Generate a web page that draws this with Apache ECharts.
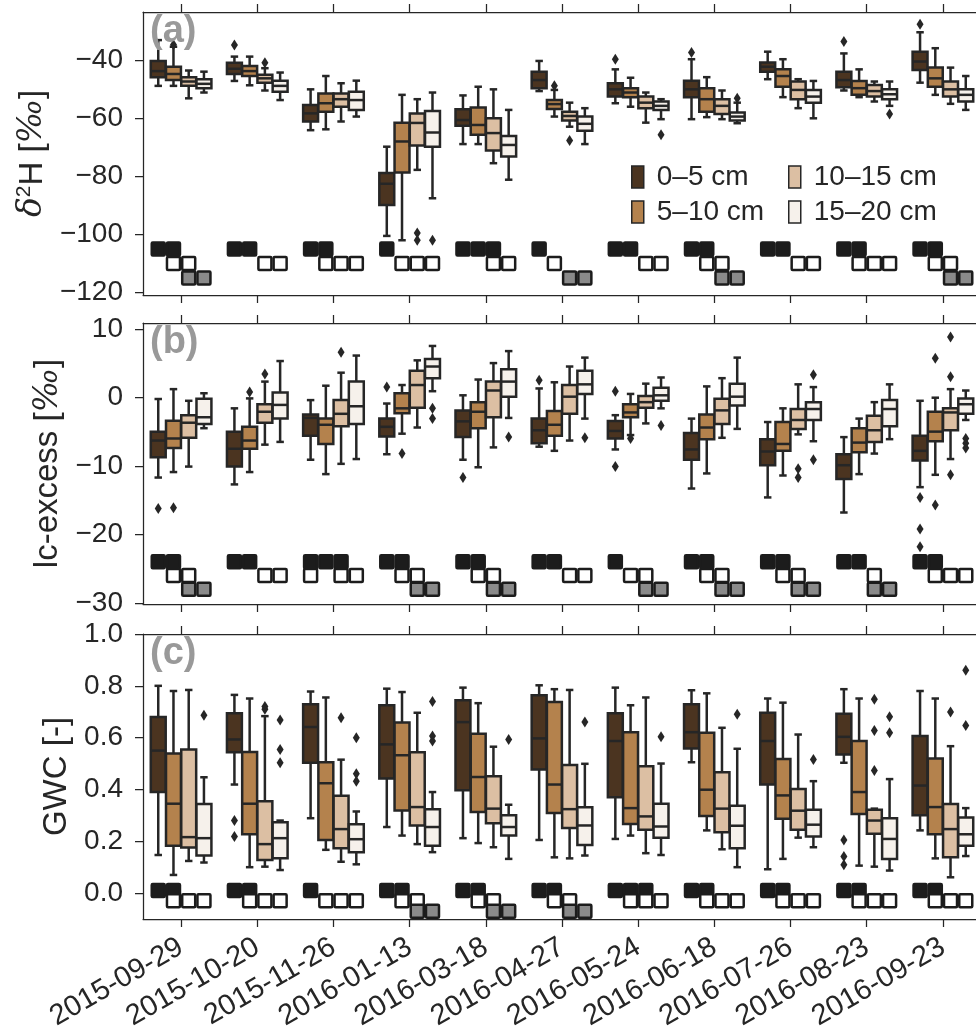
<!DOCTYPE html>
<html>
<head>
<meta charset="utf-8">
<title>Soil water isotopes and GWC by depth</title>
<script src="https://cdn.jsdelivr.net/npm/echarts@6/dist/echarts.min.js"></script>
<style>
  html, body { margin: 0; padding: 0; background: #fff; }
  #chart { width: 976px; height: 1035px; }
</style>
</head>
<body>
<div id="chart"></div>
<script>
const dates = ['2015-09-29', '2015-10-20', '2015-11-26', '2016-01-13', '2016-03-18', '2016-04-27',
  '2016-05-24', '2016-06-18', '2016-07-26', '2016-08-23', '2016-09-23']
const depths = ['0–5 cm', '5–10 cm', '10–15 cm', '15–20 cm']

// box stats per date: [whisker low, q1, median, q3, whisker high]
const d2H_0_5 = [[-48.7, -45.7, -43.6, -40.1, -32.9], [-47.0, -44.6, -42.8, -40.7, -38.6], [-64.0, -61.0, -58.2, -55.3, -49.9],
  [-100.5, -89.8, -82.5, -78.8, -69.7], [-68.8, -62.5, -60.5, -56.8, -52.0], [-50.5, -49.5, -46.7, -43.8, -40.1],
  [-54.7, -52.4, -49.9, -47.8, -43.0], [-60.2, -52.6, -49.9, -46.9, -39.5], [-46.4, -43.8, -42.1, -40.6, -36.9],
  [-50.3, -49.2, -46.7, -43.8, -37.5], [-47.6, -43.2, -40.3, -36.9, -30.2]]
const d2H_5_10 = [[-48.7, -46.7, -44.6, -42.1, -35.2], [-48.5, -45.3, -43.6, -41.8, -38.6], [-63.7, -57.6, -54.7, -51.3, -45.3],
  [-102.0, -78.6, -67.9, -61.4, -51.8], [-68.8, -65.6, -62.2, -56.2, -49.0], [-59.3, -56.7, -55.0, -53.6, -50.1],
  [-55.9, -52.6, -51.0, -49.5, -45.9], [-59.5, -57.6, -53.3, -49.5, -45.7], [-52.6, -49.0, -45.3, -43.0, -39.5],
  [-52.6, -51.8, -49.5, -47.0, -43.0], [-51.8, -49.0, -46.1, -42.4, -35.7]]
const d2H_10_15 = [[-53.0, -48.7, -47.2, -45.7, -43.4], [-50.3, -47.6, -46.1, -44.9, -42.6], [-61.0, -55.9, -53.3, -51.3, -47.8],
  [-77.7, -69.3, -61.5, -58.2, -53.3], [-75.4, -71.0, -65.0, -59.9, -49.9], [-62.8, -60.7, -59.1, -57.6, -54.5],
  [-61.4, -56.4, -54.5, -52.4, -51.0], [-60.2, -58.4, -55.6, -53.3, -50.3], [-56.4, -53.3, -50.1, -47.2, -46.4],
  [-54.1, -52.4, -50.5, -48.4, -47.2], [-54.9, -52.4, -49.9, -47.2, -42.4]]
const d2H_15_20 = [[-51.0, -49.5, -48.0, -46.4, -43.8], [-53.6, -50.7, -48.7, -46.9, -44.1], [-59.3, -57.0, -53.6, -50.7, -46.9],
  [-87.5, -69.7, -64.8, -57.4, -51.0], [-81.1, -73.1, -69.1, -66.0, -57.0], [-68.8, -64.2, -61.8, -59.3, -56.4],
  [-60.2, -57.0, -55.6, -54.1, -53.3], [-61.6, -60.7, -59.3, -57.9, -54.5], [-59.9, -54.5, -52.4, -50.1, -47.0],
  [-55.6, -53.3, -51.6, -49.9, -47.2], [-57.0, -54.1, -51.8, -49.9, -45.3]]
// [date index, depth index, value]
const d2H_out = [[0, 1, -34.5], [1, 0, -34.6], [1, 2, -40.7], [3, 2, -99.5], [3, 2, -102], [3, 3, -102], [5, 1, -48.7],
  [5, 2, -67.6], [6, 0, -39.5], [6, 3, -65.6], [7, 0, -37.2], [7, 3, -53.0], [9, 0, -33.4], [9, 3, -58.4], [10, 0, -27.4]]
const d2H_groups = [['a', 'ab', 'bc', 'c'], ['a', 'a', 'b', 'b'], ['a', 'ab', 'b', 'b'], ['a', 'b', 'b', 'b'],
  ['a', 'a', 'ab', 'b'], ['a', 'b', 'c', 'c'], ['a', 'a', 'b', 'b'], ['a', 'ab', 'bc', 'c'], ['a', 'a', 'b', 'b'],
  ['a', 'ab', 'b', 'b'], ['a', 'ab', 'bc', 'c']]
const d2H_rows = [-105, -110, -115]

const lcx_0_5 = [[-11.7, -8.75, -6.3, -5.0, -0.24], [-12.7, -10.1, -7.5, -5.0, -1.6], [-9.1, -5.6, -3.0, -2.5, -0.4],
  [-8.3, -5.7, -4.3, -3.1, -0.9], [-9.1, -5.8, -3.5, -1.9, 0.3], [-7.2, -6.7, -4.8, -3.1, 1.3],
  [-7.6, -6.0, -4.9, -3.45, -2.6], [-13.3, -9.1, -7.6, -5.2, -3.1], [-14.6, -9.9, -7.9, -6.1, -3.6],
  [-16.8, -11.9, -9.9, -8.3, -5.8], [-13.1, -9.2, -7.8, -5.6, -0.5]]
const lcx_5_10 = [[-10.9, -7.4, -6.0, -3.4, 1.2], [-10.9, -7.5, -6.3, -4.3, -0.15], [-11.2, -6.8, -4.0, -3.1, 1.7],
  [-5.3, -2.3, -1.6, 0.6, 1.8], [-10.2, -4.5, -2.1, -0.7, 2.6], [-7.8, -5.6, -4.0, -2.0, 2.2],
  [-5.5, -2.9, -2.2, -1.0, 0.5], [-11.1, -6.1, -4.4, -2.5, 1.6], [-11.4, -7.8, -6.8, -3.6, -1.6],
  [-11.2, -8.0, -6.6, -4.5, -3.1], [-11.3, -6.4, -5.0, -2.1, -0.05]]
const lcx_10_15 = [[-10.1, -5.9, -3.7, -2.6, -0.5], [-6.9, -3.7, -2.1, -1.0, 2.3], [-9.7, -4.2, -2.4, -0.4, 3.6],
  [-4.4, -1.5, 1.8, 3.9, 5.4], [-7.3, -2.9, 1.0, 2.3, 5.0], [-6.3, -2.4, 0.1, 1.8, 4.5],
  [-3.8, -1.5, -0.7, 0.2, 2.0], [-5.9, -3.9, -1.9, -0.2, 2.8], [-5.4, -4.6, -3.3, -1.7, 1.9],
  [-8.2, -6.5, -4.8, -2.7, -0.7], [-9.0, -4.8, -2.2, -1.6, 1.2]]
const lcx_15_20 = [[-4.5, -3.9, -2.9, -0.2, 0.6], [-6.5, -3.1, -1.1, 0.7, 5.3], [-9.0, -3.9, -1.3, 2.3, 6.1],
  [0.9, 2.8, 4.5, 5.6, 7.5], [-3.0, 0.1, 2.3, 4.1, 6.75], [-3.1, 0.5, 1.9, 3.9, 5.8],
  [-1.6, -0.5, 0.3, 1.4, 2.9], [-4.6, -1.2, 0.1, 2.0, 5.8], [-6.4, -3.3, -1.7, -0.7, 1.5],
  [-6.1, -4.2, -1.7, -0.4, 1.9], [-3.3, -2.4, -1.0, -0.15, 1.0]]
const lcx_out = [[0, 0, -16.2], [0, 1, -16.1], [1, 1, 0.8], [1, 2, 3.4], [2, 2, 6.6], [3, 0, 1.5], [3, 1, -8.2],
  [3, 3, -1.6], [3, 3, -3.1], [4, 0, -11.7], [4, 3, -5.8], [5, 0, 2.5], [5, 3, -5.9], [6, 0, 0.9], [6, 0, -10.1],
  [6, 1, -6.0], [6, 3, -4.1], [8, 2, -10.4], [8, 2, -11.7], [8, 3, 3.3], [8, 3, -9.1], [10, 0, -14.6], [10, 0, -19.2],
  [10, 0, -21.8], [10, 1, 5.7], [10, 1, -15.7], [10, 2, 8.8], [10, 2, 3.0], [10, 2, -11.3], [10, 3, -6.0],
  [10, 3, -6.7], [10, 3, -7.4]]
const lcx_groups = [['a', 'ab', 'bc', 'c'], ['a', 'a', 'b', 'b'], ['ab', 'a', 'ab', 'b'], ['a', 'ab', 'bc', 'c'],
  ['a', 'ab', 'bc', 'c'], ['a', 'a', 'b', 'b'], ['a', 'b', 'bc', 'c'], ['a', 'ab', 'bc', 'c'], ['a', 'ab', 'bc', 'c'],
  ['a', 'a', 'bc', 'c'], ['a', 'ab', 'b', 'b']]
const lcx_rows = [-24, -26, -28]

const gwc_0_5 = [[0.147, 0.39, 0.55, 0.68, 0.80], [0.419, 0.544, 0.593, 0.694, 0.765], [0.289, 0.503, 0.641, 0.729, 0.778],
  [0.255, 0.442, 0.574, 0.725, 0.789], [0.212, 0.397, 0.66, 0.744, 0.793], [0.205, 0.477, 0.597, 0.764, 0.802],
  [0.209, 0.37, 0.587, 0.694, 0.793], [0.505, 0.558, 0.621, 0.729, 0.783], [0.092, 0.419, 0.587, 0.696, 0.751],
  [0.503, 0.535, 0.603, 0.692, 0.787], [0.242, 0.30, 0.415, 0.606, 0.78]]
const gwc_5_10 = [[0.07, 0.183, 0.345, 0.539, 0.78], [0.10, 0.227, 0.345, 0.545, 0.751], [0.167, 0.205, 0.424, 0.505, 0.755],
  [0.222, 0.319, 0.532, 0.658, 0.776], [0.193, 0.313, 0.448, 0.615, 0.733], [0.138, 0.309, 0.419, 0.738, 0.787],
  [0.222, 0.267, 0.328, 0.621, 0.725], [0.242, 0.298, 0.399, 0.619, 0.771], [0.132, 0.287, 0.377, 0.518, 0.735],
  [0.106, 0.305, 0.39, 0.587, 0.751], [0.134, 0.227, 0.332, 0.519, 0.751]]
const gwc_10_15 = [[0.124, 0.176, 0.216, 0.554, 0.784], [0.102, 0.128, 0.189, 0.354, 0.683], [0.121, 0.173, 0.247, 0.376, 0.515],
  [0.189, 0.261, 0.332, 0.544, 0.696], [0.177, 0.27, 0.326, 0.451, 0.565], [0.134, 0.251, 0.324, 0.494, 0.784],
  [0.154, 0.244, 0.296, 0.49, 0.755], [0.169, 0.235, 0.326, 0.466, 0.638], [0.214, 0.244, 0.318, 0.402, 0.612],
  [0.102, 0.229, 0.28, 0.322, 0.326], [0.061, 0.138, 0.247, 0.344, 0.567]]
const gwc_15_20 = [[0.118, 0.145, 0.212, 0.344, 0.447], [0.089, 0.134, 0.212, 0.273, 0.28], [0.111, 0.158, 0.208, 0.266, 0.315],
  [0.158, 0.183, 0.255, 0.324, 0.39], [0.132, 0.222, 0.255, 0.30, 0.341], [0.145, 0.186, 0.261, 0.331, 0.499],
  [0.147, 0.214, 0.257, 0.345, 0.50], [0.10, 0.173, 0.26, 0.337, 0.557], [0.177, 0.218, 0.264, 0.322, 0.432],
  [0.087, 0.132, 0.209, 0.289, 0.44], [0.143, 0.183, 0.227, 0.292, 0.328]]
const gwc_out = [[0, 3, 0.686], [1, 0, 0.28], [1, 0, 0.218], [1, 2, 0.72], [1, 2, 0.71], [1, 3, 0.668], [1, 3, 0.554],
  [1, 3, 0.503], [2, 2, 0.677], [2, 3, 0.60], [2, 3, 0.461], [2, 3, 0.432], [3, 3, 0.739], [3, 3, 0.606], [3, 3, 0.587],
  [4, 3, 0.593], [5, 3, 0.66], [6, 3, 0.603], [7, 3, 0.69], [8, 3, 0.516], [9, 0, 0.205], [9, 0, 0.141], [9, 0, 0.109],
  [9, 2, 0.748], [9, 2, 0.628], [9, 2, 0.473], [9, 3, 0.681], [9, 3, 0.619], [10, 2, 0.699], [10, 3, 0.86], [10, 3, 0.647]]
const gwc_groups = [['a', 'ab', 'b', 'b'], ['a', 'ab', 'b', 'b'], ['a', 'b', 'b', 'b'], ['a', 'ab', 'bc', 'c'],
  ['a', 'ab', 'bc', 'c'], ['a', 'ab', 'bc', 'c'], ['a', 'ab', 'ab', 'b'], ['a', 'ab', 'b', 'b'], ['a', 'ab', 'b', 'b'],
  ['a', 'ab', 'b', 'b'], ['a', 'ab', 'b', 'b']]
const gwc_rows = [0.01, -0.03, -0.07]

const ink = '#262626'
const font = '"Liberation Sans", Arial, sans-serif'
const boxColors = ['#4b3420', '#b4824d', '#dcbfa3', '#f6f1eb']
const groupFills = ['#1c1c1c', '#ffffff', '#8a8a8a']
const minus = v => String(v).replace('-', '\u2212')

const panels = [
  { tag: '(a)', stats: [d2H_0_5, d2H_5_10, d2H_10_15, d2H_15_20], out: d2H_out, groups: d2H_groups, rows: d2H_rows,
    top: 12, height: 283, min: -120.9, max: -23.2, ticks: [-120, -100, -80, -60, -40], fmt: minus,
    name: '{i|δ}{s|2}H [{i|‰}]', nameGap: 92 },
  { tag: '(b)', stats: [lcx_0_5, lcx_5_10, lcx_10_15, lcx_15_20], out: lcx_out, groups: lcx_groups, rows: lcx_rows,
    top: 323, height: 281, min: -30.15, max: 10.85, ticks: [-30, -20, -10, 0, 10], fmt: minus,
    name: 'lc-excess [{i|‰}]', nameGap: 76 },
  { tag: '(c)', stats: [gwc_0_5, gwc_5_10, gwc_10_15, gwc_15_20], out: gwc_out, groups: gwc_groups, rows: gwc_rows,
    top: 634, height: 285, min: -0.1, max: 1.0, ticks: [0, 0.2, 0.4, 0.6, 0.8, 1.0], fmt: v => v.toFixed(1),
    name: 'GWC [-]', nameGap: 67 }
]

const slot = (api, cat, k) => {
  const bw = api.size([1, 0])[0]
  return { x: api.coord([cat, 0])[0] + (k - 1.5) * bw * 0.2, w: bw * 0.2 * 0.98 }
}
const lineStyle = { stroke: ink, lineWidth: 2.5 }

const boxRenderer = k => (params, api) => {
  const { x, w } = slot(api, api.value(0), k)
  const y = i => api.coord([api.value(0), api.value(i)])[1]
  const lo = y(1), q1 = y(2), md = y(3), q3 = y(4), hi = y(5)
  const cap = w * 0.25
  return {
    type: 'group',
    children: [
      { type: 'line', shape: { x1: x, y1: hi, x2: x, y2: q3 }, style: lineStyle },
      { type: 'line', shape: { x1: x, y1: q1, x2: x, y2: lo }, style: lineStyle },
      { type: 'line', shape: { x1: x - cap, y1: hi, x2: x + cap, y2: hi }, style: lineStyle },
      { type: 'line', shape: { x1: x - cap, y1: lo, x2: x + cap, y2: lo }, style: lineStyle },
      { type: 'rect', shape: { x: x - w / 2, y: q3, width: w, height: q1 - q3 },
        style: { fill: boxColors[k], stroke: ink, lineWidth: 2.5 } },
      { type: 'line', shape: { x1: x - w / 2, y1: md, x2: x + w / 2, y2: md }, style: lineStyle }
    ]
  }
}

const outlierRenderer = (params, api) => {
  const { x } = slot(api, api.value(0), api.value(1))
  const y = api.coord([api.value(0), api.value(2)])[1]
  return { type: 'polygon', shape: { points: [[x, y - 5.5], [x + 3.5, y], [x, y + 5.5], [x - 3.5, y]] }, style: { fill: ink } }
}

const groupRenderer = (params, api) => {
  const { x } = slot(api, api.value(0), api.value(1))
  const y = api.coord([api.value(0), api.value(2)])[1]
  return { type: 'rect', shape: { x: x - 6.5, y: y - 6.5, width: 13, height: 13, r: 1 },
    style: { fill: groupFills[api.value(3)], stroke: '#1c1c1c', lineWidth: 2.5 } }
}

const grid = [], xAxis = [], yAxis = [], series = [], graphic = []
const axisLine = { show: true, onZero: false, lineStyle: { color: ink, width: 1.25 } }
const axisTick = { show: true, alignWithLabel: true, interval: 0, length: 8, lineStyle: { color: ink, width: 1.25 } }

panels.forEach((p, i) => {
  grid.push({ left: 143, width: 838, top: p.top, height: p.height, containLabel: false, outerBoundsMode: 'none' })
  xAxis.push({
    type: 'category', gridIndex: i, data: dates, position: 'bottom', axisLine, axisTick,
    axisLabel: { show: i === 2, interval: 0, hideOverlap: false, rotate: 30, margin: 26, fontSize: 29, color: ink, fontFamily: font }
  })
  xAxis.push({ type: 'category', gridIndex: i, data: dates, position: 'top', axisLine, axisTick, axisLabel: { show: false, interval: 0 } })
  yAxis.push({
    type: 'value', gridIndex: i, min: p.min, max: p.max, splitLine: { show: false }, axisLine,
    axisTick: { show: true, length: 8, lineStyle: { color: ink, width: 1.25 }, customValues: p.ticks },
    axisLabel: { customValues: p.ticks, formatter: p.fmt, fontSize: 28, color: ink, fontFamily: font, margin: 20 },
    name: p.name, nameLocation: 'middle', nameRotate: 90, nameGap: p.nameGap,
    nameTextStyle: {
      fontSize: 33, color: ink, fontFamily: font,
      rich: {
        i: { fontSize: 33, color: ink, fontStyle: 'italic', fontFamily: '"DejaVu Serif", serif' },
        s: { fontSize: 21, color: ink, fontFamily: font, padding: [0, 0, 16, 0] }
      }
    }
  })
  p.stats.forEach((rows, k) => {
    series.push({
      type: 'custom', name: depths[k], xAxisIndex: i * 2, yAxisIndex: i, clip: true, z: 2,
      renderItem: boxRenderer(k),
      encode: { x: 0, y: [1, 2, 3, 4, 5] },
      data: rows.map((s, d) => [d, ...s])
    })
  })
  series.push({
    type: 'custom', xAxisIndex: i * 2, yAxisIndex: i, clip: true, z: 3,
    renderItem: outlierRenderer, encode: { x: 0, y: 2 }, data: p.out
  })
  const marks = []
  ;['a', 'b', 'c'].forEach((letter, r) => {
    p.groups.forEach((g, d) => g.forEach((letters, k) => {
      if (letters.includes(letter)) marks.push([d, k, p.rows[r], r])
    }))
  })
  series.push({
    type: 'custom', xAxisIndex: i * 2, yAxisIndex: i, clip: true, z: 4,
    renderItem: groupRenderer, encode: { x: 0, y: 2 }, data: marks
  })
  graphic.push({
    type: 'text', left: 150, top: p.top + 1, z: 10,
    style: { text: p.tag, fill: '#999999', font: 'bold 38px ' + font }
  })
})

const legendItem = k => ({ name: depths[k], icon: 'rect', itemStyle: { color: boxColors[k], borderColor: ink, borderWidth: 1.5 } })
const legendBase = {
  orient: 'vertical', top: 158, itemWidth: 12, itemHeight: 22, itemGap: 7, selectedMode: false,
  textStyle: { fontSize: 28, lineHeight: 28, color: ink, fontFamily: font, padding: [0, 0, 0, 8] }
}

const chart = echarts.init(document.getElementById('chart'))
chart.setOption({
  animation: false,
  backgroundColor: '#fff',
  textStyle: { fontFamily: font },
  legend: [
    { ...legendBase, left: 626, data: [legendItem(0), legendItem(1)] },
    { ...legendBase, left: 783, data: [legendItem(2), legendItem(3)] }
  ],
  grid, xAxis, yAxis, series, graphic
})
</script>
</body>
</html>
